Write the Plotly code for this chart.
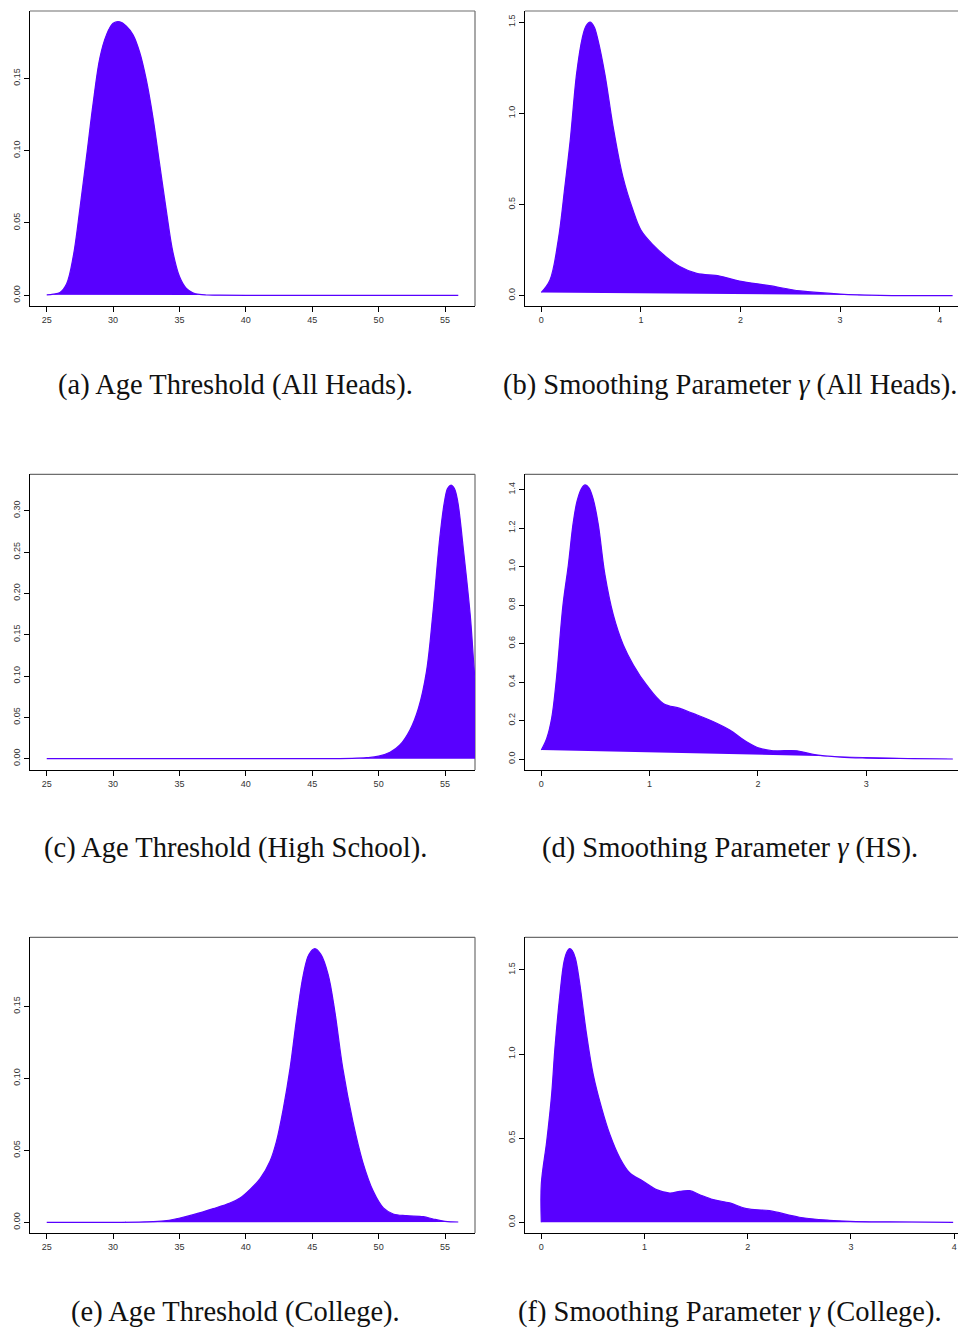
import plotly.graph_objects as go

W, H = 958, 1329
FILL = "#5800FF"

# ---------------- data ----------------
# (a) Age threshold, all heads
a_x = [25, 25.5, 26, 26.5, 27, 27.5, 28, 28.5, 29, 29.5, 30, 30.5, 31, 31.5, 32, 32.5,
       33, 33.5, 34, 34.5, 35, 35.5, 36, 36.5, 37, 38, 40, 45, 50, 56]
a_y = [0.0003, 0.0008, 0.002, 0.008, 0.027, 0.06, 0.096, 0.133, 0.164, 0.180, 0.188, 0.189,
       0.186, 0.180, 0.168, 0.149, 0.123, 0.091, 0.059, 0.030, 0.013, 0.005, 0.0018, 0.0006,
       0.0002, 0.0001, 0, 0, 0, 0]

# (b) Smoothing parameter gamma, all heads
b_x = [0, 0.087, 0.17, 0.237, 0.29, 0.355, 0.41, 0.45, 0.49, 0.53, 0.57, 0.64, 0.72, 0.82,
       0.92, 1.0, 1.12, 1.26, 1.39, 1.56, 1.79, 1.99, 2.29, 2.6, 3.0, 3.4, 4.13]
b_y = [0.018, 0.086, 0.305, 0.6, 0.85, 1.22, 1.41, 1.48, 1.50, 1.475, 1.40, 1.21, 0.93, 0.65,
       0.47, 0.36, 0.28, 0.21, 0.16, 0.122, 0.108, 0.08, 0.055, 0.026, 0.009, 0.002, 0.0]

# (c) Age threshold, high school
c_x = [25, 30, 35, 40, 45, 48, 49.1, 50.0, 50.86, 51.6, 52.37, 53.0, 53.6, 54.1, 54.6, 54.95,
       55.2, 55.45, 55.7, 55.95, 56.38, 56.9, 57.3, 57.7, 58.2, 58.7, 59.2]
c_y = [0, 0, 0, 0, 0, 0.0004, 0.0012, 0.003, 0.0077, 0.0165, 0.035, 0.061, 0.105, 0.178,
       0.266, 0.310, 0.327, 0.331, 0.327, 0.312, 0.254, 0.174, 0.09, 0.045, 0.015, 0.004, 0.0]

# (d) Smoothing parameter gamma, HS
d_x = [0, 0.05, 0.095, 0.14, 0.2, 0.25, 0.295, 0.33, 0.37, 0.405, 0.44, 0.48, 0.526, 0.588,
       0.665, 0.757, 0.85, 0.972, 1.126, 1.28, 1.40, 1.59, 1.74, 1.895, 2.02, 2.14, 2.36,
       2.51, 2.76, 3.0, 3.43, 3.80]
d_y = [0.047, 0.107, 0.21, 0.42, 0.8, 1.01, 1.23, 1.34, 1.405, 1.425, 1.41, 1.35, 1.22, 0.957,
       0.749, 0.593, 0.489, 0.385, 0.289, 0.263, 0.237, 0.194, 0.151, 0.09, 0.055, 0.043,
       0.043, 0.024, 0.010, 0.005, 0.002, 0.0]

# (e) Age threshold, college
e_x = [25, 30, 33, 34.04, 35.04, 36.04, 37.55, 38.8, 39.56, 40.3, 41.07, 41.82, 42.3, 42.83,
       43.33, 43.83, 44.33, 44.75, 45.2, 45.65, 46.2, 46.7, 47.3, 48.06, 48.8, 49.6, 50.36,
       51.1, 52.1, 53.37, 54.1, 55.0, 56.0]
e_y = [0, 0, 0.0005, 0.0012, 0.003, 0.0053, 0.0095, 0.0134, 0.0169, 0.0227, 0.0303, 0.0424,
       0.056, 0.0794, 0.107, 0.142, 0.172, 0.186, 0.190, 0.186, 0.172, 0.1465, 0.107, 0.070,
       0.042, 0.0215, 0.010, 0.0058, 0.0046, 0.0039, 0.0023, 0.0007, 0.0002]

# (f) Smoothing parameter gamma, college
f_x = [0, 0, 0.052, 0.1, 0.132, 0.18, 0.22, 0.25, 0.275, 0.30, 0.33, 0.37, 0.439, 0.503,
       0.584, 0.665, 0.761, 0.858, 0.987, 1.116, 1.245, 1.342, 1.439, 1.535, 1.665, 1.826,
       1.987, 2.21, 2.5, 2.79, 2.99, 3.44, 3.99]
f_y = [0, 0.228, 0.48, 0.76, 1.036, 1.353, 1.55, 1.61, 1.627, 1.615, 1.57, 1.43, 1.115, 0.878,
       0.68, 0.52, 0.382, 0.293, 0.244, 0.194, 0.174, 0.184, 0.188, 0.164, 0.135, 0.115,
       0.081, 0.069, 0.030, 0.012, 0.006, 0.002, 0.0]

age_ticks = [25, 30, 35, 40, 45, 50, 55]
captions = [
    "(a) Age Threshold (All Heads).",
    "(b) Smoothing Parameter <i>γ</i> (All Heads).",
    "(c) Age Threshold (High School).",
    "(d) Smoothing Parameter <i>γ</i> (HS).",
    "(e) Age Threshold (College).",
    "(f) Smoothing Parameter <i>γ</i> (College).",
]

panels = [
    dict(x=a_x, y=a_y, xr=[23.74, 57.26], yr=[-0.0074, 0.1965], xt=age_ticks,
         yt=[0, 0.05, 0.10, 0.15], yf=".2f", col=0, row=0),
    dict(x=b_x, y=b_y, xr=[-0.1637, 4.184], yr=[-0.0565, 1.561], xt=[0, 1, 2, 3, 4],
         yt=[0, 0.5, 1.0, 1.5], yf=".1f", col=1, row=0),
    dict(x=c_x, y=c_y, xr=[23.74, 57.26], yr=[-0.0137, 0.344], xt=age_ticks,
         yt=[0, 0.05, 0.10, 0.15, 0.20, 0.25, 0.30], yf=".2f", col=0, row=1),
    dict(x=d_x, y=d_y, xr=[-0.1505, 3.8476], yr=[-0.0572, 1.48], xt=[0, 1, 2, 3],
         yt=[0, 0.2, 0.4, 0.6, 0.8, 1.0, 1.2, 1.4], yf=".1f", col=1, row=1),
    dict(x=e_x, y=e_y, xr=[23.74, 57.26], yr=[-0.00743, 0.1979], xt=age_ticks,
         yt=[0, 0.05, 0.10, 0.15], yf=".2f", col=0, row=2),
    dict(x=f_x, y=f_y, xr=[-0.158, 4.037], yr=[-0.0636, 1.694], xt=[0, 1, 2, 3, 4],
         yt=[0, 0.5, 1.0, 1.5], yf=".1f", col=1, row=2),
]

# pixel geometry of the frames
col_px = [(30, 475), (525, 965)]
row_px = [(11, 306), (474.3, 770), (937.3, 1233)]
cap_x = [235, 730]
cap_y = [385, 848, 1312]

fig = go.Figure()
layout = dict(width=W, height=H, margin=dict(l=0, r=0, t=0, b=0),
              paper_bgcolor="white", plot_bgcolor="white", showlegend=False)
shapes, annotations = [], []
tickfont = dict(family="Liberation Sans, Arial, sans-serif", size=9, color="#333333")

for i, p in enumerate(panels):
    n = "" if i == 0 else str(i + 1)
    x0, x1 = col_px[p["col"]]
    top, bot = row_px[p["row"]]
    fig.add_trace(go.Scatter(
        x=p["x"], y=p["y"], mode="lines", fill="toself", fillcolor=FILL,
        line=dict(color=FILL, width=1.2, shape="spline", smoothing=1.0),
        xaxis="x" + n, yaxis="y" + n, hoverinfo="skip"))
    layout["xaxis" + n] = dict(
        domain=[x0 / W, min(x1 / W, 1.0)], range=p["xr"], anchor="y" + n,
        tickvals=p["xt"], ticktext=[str(v) for v in p["xt"]], ticks="outside",
        ticklen=5, tickwidth=1, tickcolor="black", showline=True, linecolor="black",
        linewidth=1, showgrid=False, zeroline=False, tickfont=tickfont)
    layout["yaxis" + n] = dict(
        domain=[1 - bot / H, 1 - top / H], range=p["yr"], anchor="x" + n,
        tickvals=p["yt"], tickformat=p["yf"], ticks="outside", ticklen=5, tickwidth=1,
        tickcolor="black", showline=True, linecolor="black", linewidth=1,
        showgrid=False, zeroline=False, tickangle=-90, tickfont=tickfont)
    # grey top and right frame edges
    shapes.append(dict(type="line", xref="paper", yref="paper", x0=x0 / W, x1=x1 / W,
                       y0=1 - top / H, y1=1 - top / H, line=dict(color="#6e6e6e", width=1.2),
                       layer="below"))
    shapes.append(dict(type="line", xref="paper", yref="paper", x0=x1 / W, x1=x1 / W,
                       y0=1 - top / H, y1=1 - bot / H, line=dict(color="#6e6e6e", width=1.2),
                       layer="below"))
    annotations.append(dict(text=captions[i], xref="paper", yref="paper",
                            x=cap_x[p["col"]] / W, y=1 - cap_y[p["row"]] / H,
                            xanchor="center", yanchor="middle", showarrow=False,
                            font=dict(family="Liberation Serif, Times New Roman, serif",
                                      size=28.5, color="#111111")))

layout["shapes"] = shapes
layout["annotations"] = annotations
fig.update_layout(**layout)
fig.write_html("out.html")
